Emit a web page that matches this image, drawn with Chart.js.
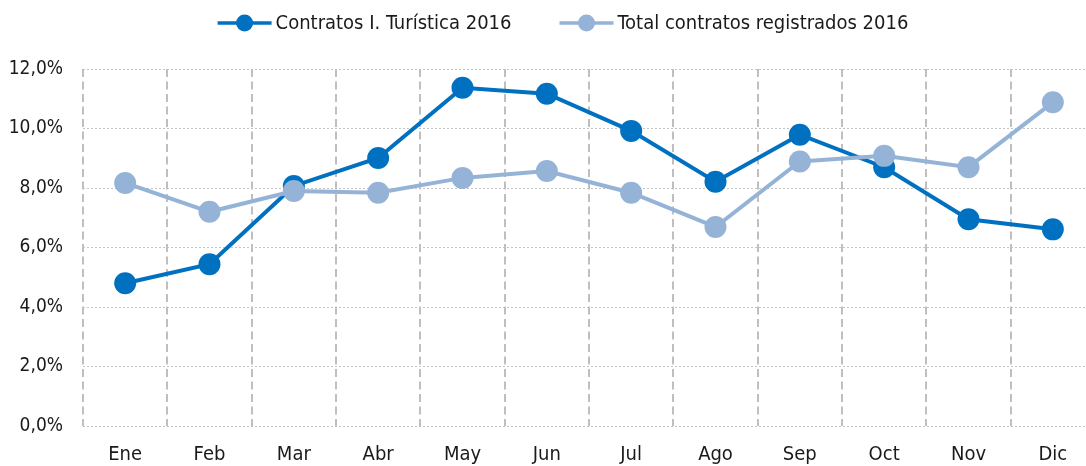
<!DOCTYPE html>
<html>
<head>
<meta charset="utf-8">
<script src="https://cdn.jsdelivr.net/npm/chart.js@4.4.0/dist/chart.umd.min.js"></script>
<style>
    html, body { margin: 0; padding: 0; background: #fff; overflow: hidden; }
    #wrap { width: 1106px; height: 466px; }
</style>
</head>
<body>
<div id="wrap"><canvas id="chart" width="1106" height="466"></canvas></div>
<script>
const months = ['Ene', 'Feb', 'Mar', 'Abr', 'May', 'Jun', 'Jul', 'Ago', 'Sep', 'Oct', 'Nov', 'Dic'];
const seriesNames = ['Contratos I. Turística 2016', 'Total contratos registrados 2016'];
const turistica = [4.80, 5.44, 8.07, 9.01, 11.37, 11.17, 9.92, 8.21, 9.79, 8.70, 6.95, 6.61];
const totalRegistrados = [8.17, 7.20, 7.90, 7.84, 8.34, 8.57, 7.84, 6.69, 8.89, 9.08, 8.70, 10.88];
const yTicks = [0, 2, 4, 6, 8, 10, 12];

const FONT = "'DejaVu Sans Condensed', 'Roboto', sans-serif";
const DARK = '#0070c0';
const LIGHT = '#95b3d7';

// legend drawn as one centred row above the plot
const topLegend = {
    id: 'topLegend',
    afterDraw(chart) {
        const ctx = chart.ctx;
        ctx.save();
        ctx.font = `20px ${FONT}`;
        ctx.textBaseline = 'middle';
        const lineW = 54, textGap = 4, itemGap = 48;
        const items = chart.data.datasets.map(ds => ({
            label: ds.label,
            color: ds.borderColor,
            w: lineW + textGap + ctx.measureText(ds.label).width
        }));
        const total = items.reduce((s, it) => s + it.w, 0) + itemGap * (items.length - 1);
        let x = 563 - total / 2;
        const y = 23;
        items.forEach(it => {
            ctx.strokeStyle = it.color;
            ctx.lineWidth = 3.5;
            ctx.beginPath();
            ctx.moveTo(x, y);
            ctx.lineTo(x + lineW, y);
            ctx.stroke();
            ctx.fillStyle = it.color;
            ctx.beginPath();
            ctx.arc(x + lineW / 2, y, 8.5, 0, Math.PI * 2);
            ctx.fill();
            ctx.fillStyle = '#1a1a1a';
            ctx.fillText(it.label, x + lineW + textGap, y + 1);
            x += it.w + itemGap;
        });
        ctx.restore();
    }
};

const ctx = document.getElementById('chart').getContext('2d');
new Chart(ctx, {
    type: 'line',
    data: {
        labels: months,
        datasets: [
            {
                label: seriesNames[0],
                data: turistica,
                borderColor: DARK,
                backgroundColor: DARK,
                borderWidth: 4,
                pointRadius: 11,
                pointHoverRadius: 11,
                pointBorderWidth: 0,
                tension: 0,
                order: 1
            },
            {
                label: seriesNames[1],
                data: totalRegistrados,
                borderColor: LIGHT,
                backgroundColor: LIGHT,
                borderWidth: 4,
                pointRadius: 11,
                pointHoverRadius: 11,
                pointBorderWidth: 0,
                tension: 0,
                order: 0
            }
        ]
    },
    options: {
        responsive: false,
        animation: false,
        layout: { padding: { top: 69, left: 0, right: 0, bottom: 0 } },
        plugins: {
            legend: { display: false },
            tooltip: { enabled: false }
        },
        scales: {
            x: {
                offset: true,
                grid: { offset: true, color: '#bfbfbf', lineWidth: 2, drawTicks: false },
                border: { display: false, dash: [8, 4.5] },
                ticks: {
                    color: '#1a1a1a',
                    padding: 17,
                    maxRotation: 0,
                    font: { family: FONT, size: 20 }
                },
                afterFit: (scale) => { scale.height = 40; }
            },
            y: {
                min: 0,
                max: 12,
                afterBuildTicks: (scale) => { scale.ticks = yTicks.map(v => ({ value: v })); },
                grid: { color: '#c4c4c4', lineWidth: 1, drawTicks: false },
                border: { display: false, dash: [2, 2] },
                ticks: {
                    color: '#1a1a1a',
                    padding: 20,
                    font: { family: FONT, size: 19 },
                    callback: (v) => v.toFixed(1).replace('.', ',') + '%'
                },
                afterFit: (scale) => { scale.width = 83; }
            }
        }
    },
    plugins: [topLegend]
});
</script>
</body>
</html>
